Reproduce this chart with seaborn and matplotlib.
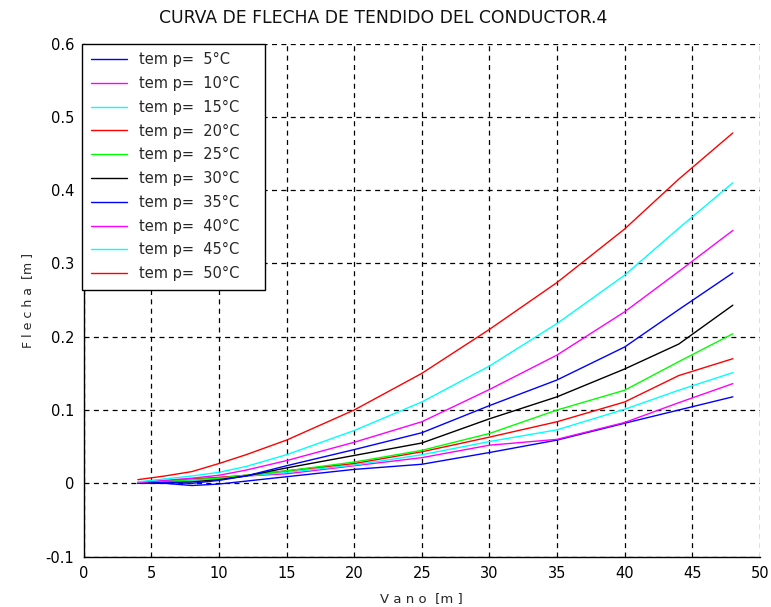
import matplotlib
matplotlib.use("Agg")
import matplotlib.pyplot as plt
import seaborn as sns
import pandas as pd

# Span lengths (m) at which the sag was evaluated
vano = [4, 6, 8, 10, 12, 15, 20, 25, 30, 35, 40, 44, 48]

# Sag (m) for each conductor temperature
flecha_05 = [0.000, 0.000, -0.003, -0.001, 0.003, 0.009, 0.019, 0.026, 0.042, 0.059, 0.082, 0.100, 0.118]
flecha_10 = [0.000, 0.003, 0.005, 0.008, 0.010, 0.013, 0.024, 0.035, 0.052, 0.060, 0.083, 0.110, 0.136]
flecha_15 = [0.001, 0.003, 0.004, 0.007, 0.010, 0.015, 0.025, 0.039, 0.057, 0.073, 0.101, 0.127, 0.151]
flecha_20 = [0.001, 0.003, 0.006, 0.008, 0.011, 0.017, 0.027, 0.043, 0.063, 0.084, 0.111, 0.147, 0.170]
flecha_25 = [0.001, 0.003, 0.005, 0.007, 0.011, 0.017, 0.029, 0.045, 0.068, 0.100, 0.127, 0.166, 0.204]
flecha_30 = [0.000, 0.001, 0.002, 0.005, 0.010, 0.021, 0.038, 0.055, 0.088, 0.118, 0.156, 0.190, 0.243]
flecha_35 = [0.000, 0.001, 0.000, 0.004, 0.010, 0.024, 0.046, 0.069, 0.106, 0.141, 0.186, 0.237, 0.287]
flecha_40 = [0.001, 0.004, 0.007, 0.011, 0.018, 0.031, 0.056, 0.084, 0.128, 0.175, 0.234, 0.289, 0.345]
flecha_45 = [0.002, 0.006, 0.010, 0.015, 0.023, 0.039, 0.072, 0.111, 0.160, 0.218, 0.284, 0.348, 0.410]
flecha_50 = [0.005, 0.010, 0.016, 0.027, 0.039, 0.059, 0.100, 0.150, 0.210, 0.274, 0.347, 0.415, 0.478]

etiquetas = ["tem p=  5°C", "tem p=  10°C", "tem p=  15°C", "tem p=  20°C", "tem p=  25°C",
             "tem p=  30°C", "tem p=  35°C", "tem p=  40°C", "tem p=  45°C", "tem p=  50°C"]
colores = ["#0000ff", "#ff00ff", "#00ffff", "#ff0000", "#00ff00",
           "#000000", "#0000ff", "#ff00ff", "#00ffff", "#ff0000"]

x_ticks = [0, 5, 10, 15, 20, 25, 30, 35, 40, 45, 50]
x_ticklabels = ["0", "5", "10", "15", "20", "25", "30", "35", "40", "45", "50"]
y_ticks = [-0.1, 0.0, 0.1, 0.2, 0.3, 0.4, 0.5, 0.6]
y_ticklabels = ["-0.1", "0", "0.1", "0.2", "0.3", "0.4", "0.5", "0.6"]

series = [flecha_05, flecha_10, flecha_15, flecha_20, flecha_25,
          flecha_30, flecha_35, flecha_40, flecha_45, flecha_50]
df = pd.concat(
    [pd.DataFrame({"vano": vano, "flecha": s, "temp": lab}) for s, lab in zip(series, etiquetas)],
    ignore_index=True,
)

sns.set_theme(style="white")
plt.rcParams["font.family"] = ["DejaVu Sans"]

fig = plt.figure(figsize=(7.71, 6.07), dpi=100)
ax = fig.add_axes([0.1086, 0.083, 0.877, 0.8453])

sns.lineplot(data=df, x="vano", y="flecha", hue="temp", hue_order=etiquetas,
             palette=dict(zip(etiquetas, colores)), sort=False, estimator=None,
             linewidth=1.0, legend=False, ax=ax)

ax.set_xlim(0, 50)
ax.set_ylim(-0.1, 0.6)
ax.set_xticks(x_ticks)
ax.set_xticklabels(x_ticklabels)
ax.set_yticks(y_ticks)
ax.set_yticklabels(y_ticklabels)
ax.tick_params(direction="in", length=4, width=0.8, colors="black",
               labelsize=10.5, pad=7)

ax.grid(True, color="black", linestyle=(0, (4, 3.5)), linewidth=0.9)
for side in ("top", "right"):
    ax.spines[side].set_visible(False)
for side in ("left", "bottom"):
    ax.spines[side].set_color("black")
    ax.spines[side].set_linewidth(1.0)

fig.text(383 / 771, 1 - 18 / 607, "CURVA DE FLECHA DE TENDIDO DEL CONDUCTOR.4",
         ha="center", va="center", fontsize=12.4, color="#111111")
ax.set_xlabel("V a n o  [m ]", fontsize=9.5, labelpad=8)
ax.set_ylabel("F l e c h a  [m ]", fontsize=9, labelpad=8)

# Legend box stretched to a fixed width in the upper-left corner
leg = ax.legend(ax.get_lines()[:len(etiquetas)], etiquetas, loc="upper left",
                bbox_to_anchor=(-0.0025, 0.0, 0.2706, 1.0), mode="expand",
                borderaxespad=0, fontsize=10.5,
                frameon=True, fancybox=False, framealpha=1, edgecolor="black",
                handlelength=2.45, handletextpad=0.85, labelspacing=0.6,
                borderpad=0.6)
leg.get_frame().set_linewidth(1.0)

fig.savefig("out.png", dpi=100)
